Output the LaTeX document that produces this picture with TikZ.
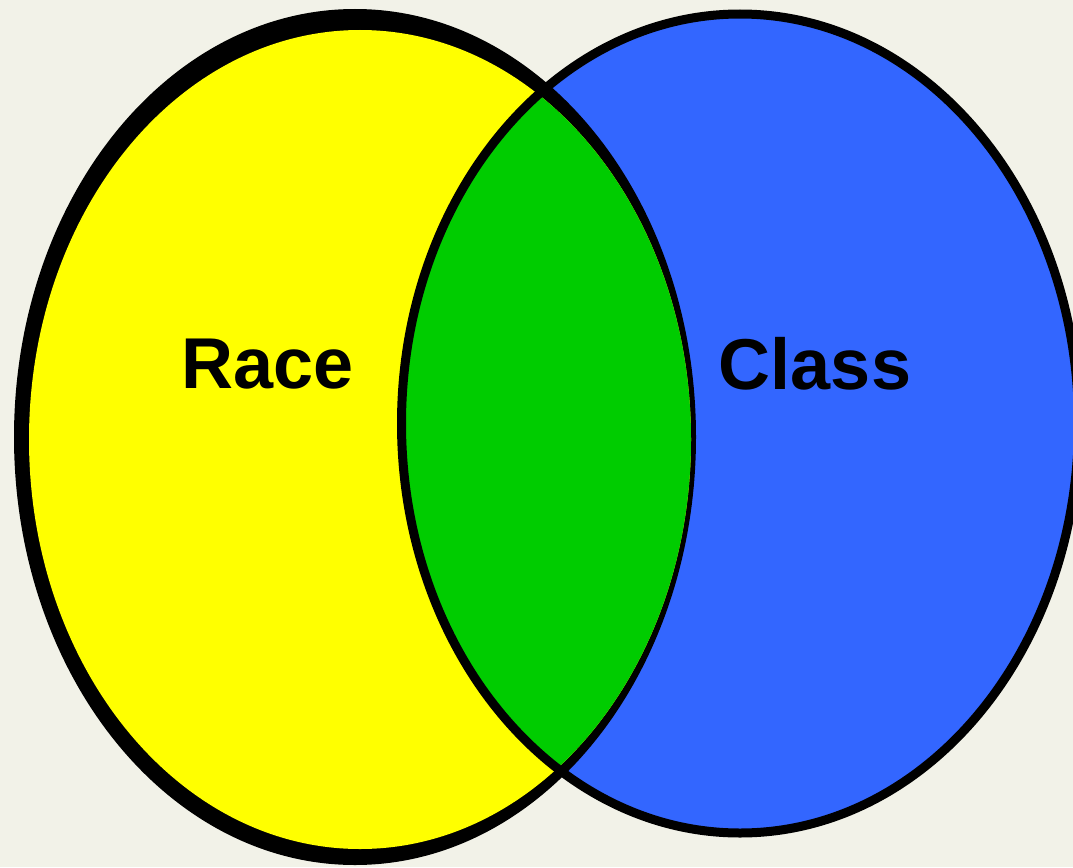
\documentclass[tikz,border=0pt]{standalone}
\usepackage{fontspec}
\setmainfont{Liberation Sans}
\usepackage{tikz}

\definecolor{bgcream}{HTML}{F2F2E8}
\definecolor{raceyellow}{HTML}{FFFF00}
\definecolor{classblue}{HTML}{3366FF}
\definecolor{bothgreen}{HTML}{00CC00}

\begin{document}
\begin{tikzpicture}[x=1pt, y=-1pt, every node/.style={font=\fontsize{72}{78}\selectfont\bfseries},
	lbl/.style={text=black, inner sep=0pt}]
	\fill[bgcream] (0,0) rectangle (1073,867);
	\useasboundingbox (0,0) rectangle (1073,867);
	% right set
	\fill[classblue] (740,423.5) ellipse [x radius=338.5pt, y radius=409.5pt];
	% left set: thick black rim, yellow inside
	\fill[black] (355,437) ellipse [x radius=341pt, y radius=428pt];
	\fill[raceyellow] (360,439.5) ellipse [x radius=331pt, y radius=409.5pt];
	% overlap
	\begin{scope}
		\clip (740,423.5) ellipse [x radius=338.5pt, y radius=409.5pt];
		\fill[bothgreen] (360,439.5) ellipse [x radius=331pt, y radius=409.5pt];
	\end{scope}
	\draw[black, line width=9pt] (740,423.5) ellipse [x radius=338.5pt, y radius=409.5pt];
	\node[lbl] (race) at (268,364) {Race};
	\node[lbl] (class) at (815,364) {Class};
\end{tikzpicture}
\end{document}
